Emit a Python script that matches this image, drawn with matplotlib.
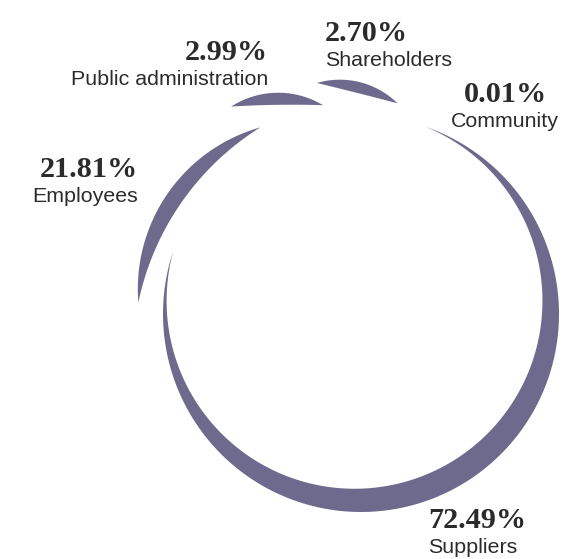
import numpy as np
import matplotlib
matplotlib.use("Agg")
import matplotlib.pyplot as plt
from matplotlib.patches import Polygon

# ---- data -------------------------------------------------------------
categories = ["Suppliers", "Employees", "Public administration", "Shareholders", "Community"]
shares = [72.49, 21.81, 2.99, 2.70, 0.01]
share_labels = ["72.49%", "21.81%", "2.99%", "2.70%", "0.01%"]

# ---- ring styling (ring radius = 1 data unit) -------------------------
SWEEP = 372.0            # total arc swept by the overlapping crescents, degrees
START = 71.0             # angle of the first crescent's leading tip, degrees
tuck = [15.7, 3.7, 0.5, 0.0]                    # overlap into the next crescent, degrees
tip_radius = [(1.0, 1.0), (1.126, 1.071), (1.236, 1.072), (1.188, 1.080), (1.08, 1.08)]
bulge = [1.0, 1.37, 3.2, 3.1, 1.0]              # outer-edge curvature vs. the plain ring
thickness = [0.125, 0.083, 0.061, 0.056, 0.0]   # widest point of each crescent
RING_COLOR = "#6E6A8E"
TEXT_COLOR = "#2b2b2b"

# label anchors: (angle deg, radius, horizontal alignment)
label_pos = [(-72.6, 1.132, "left"), (148.4, 1.322, "right"), (110.1, 1.366, "right"),
             (97.5, 1.391, "left"), (55.8, 1.294, "center")]
LINE_GAP = 0.126

W, H = 566, 559
PX_PER_UNIT = 198.0
CENTER_PX = (361.0, 314.0)


def arc_spans(vals, sweep):
    """Leading share drawn to scale; the smaller shares split the rest by sqrt."""
    vals = np.asarray(vals, float)
    spans = vals / vals.sum() * sweep
    w = np.sqrt(vals[1:])
    spans[1:] = w / w.sum() * (sweep - spans[0])
    return spans


def arc_points(p1, p2, sag, nvec, n=240):
    chord = p2 - p1
    c = np.linalg.norm(chord) / 2
    t = chord / (2 * c)
    m = (p1 + p2) / 2
    if abs(sag) < 1e-9:
        s = np.linspace(-c, c, n)
        return m + s[:, None] * t
    rho = (c * c + sag * sag) / (2 * sag)
    ctr = m + (sag - rho) * nvec
    beta = np.arctan2(c, rho - sag)
    psi = np.linspace(-beta, beta, n)
    return ctr + rho * (np.cos(psi)[:, None] * nvec + np.sin(psi)[:, None] * t)


def crescent(a1, a2, r1, r2, bulge_k, thick):
    p1 = r1 * np.array([np.cos(np.radians(a1)), np.sin(np.radians(a1))])
    p2 = r2 * np.array([np.cos(np.radians(a2)), np.sin(np.radians(a2))])
    chord = p2 - p1
    t = chord / np.linalg.norm(chord)
    nvec = np.array([t[1], -t[0]])
    mid = np.radians((a1 + a2) / 2)
    if np.dot(nvec, [np.cos(mid), np.sin(mid)]) < 0:
        nvec = -nvec
    half = np.radians(abs(a1 - a2)) / 2
    s_out = bulge_k * (r1 + r2) / 2 * (1 - np.cos(half))
    s_in = max(s_out - thick, 1e-4)
    outer = arc_points(p1, p2, s_out, nvec)
    inner = arc_points(p1, p2, s_in, nvec)[::-1]
    return np.vstack([outer, inner])


fig = plt.figure(figsize=(W / 100, H / 100), dpi=100)
ax = fig.add_axes([0, 0, 1, 1])
ax.set_xlim(-CENTER_PX[0] / PX_PER_UNIT, (W - CENTER_PX[0]) / PX_PER_UNIT)
ax.set_ylim(-(H - CENTER_PX[1]) / PX_PER_UNIT, CENTER_PX[1] / PX_PER_UNIT)
ax.axis("off")

spans = arc_spans(shares, SWEEP)
angle = START
for i, span in enumerate(spans):
    a1, a2 = angle, angle - span
    if thickness[i] > 0:
        pts = crescent(a1, a2, tip_radius[i][0], tip_radius[i][1], bulge[i], thickness[i])
        ax.add_patch(Polygon(pts, closed=True, facecolor=RING_COLOR,
                             edgecolor="none", antialiased=True))
    angle = a2 + (tuck[i] if i < len(tuck) else 0.0)

for i, cat in enumerate(categories):
    ang, rad, ha = label_pos[i]
    x = rad * np.cos(np.radians(ang))
    y = rad * np.sin(np.radians(ang))
    ax.text(x, y, share_labels[i], ha=ha, va="baseline", color=TEXT_COLOR,
            family="Liberation Serif", fontweight="bold", fontsize=21.8)
    ax.text(x, y - LINE_GAP, cat, ha=ha, va="baseline", color=TEXT_COLOR,
            family="Liberation Sans", fontsize=15.4)

fig.savefig("out.png", dpi=100, facecolor="white")
